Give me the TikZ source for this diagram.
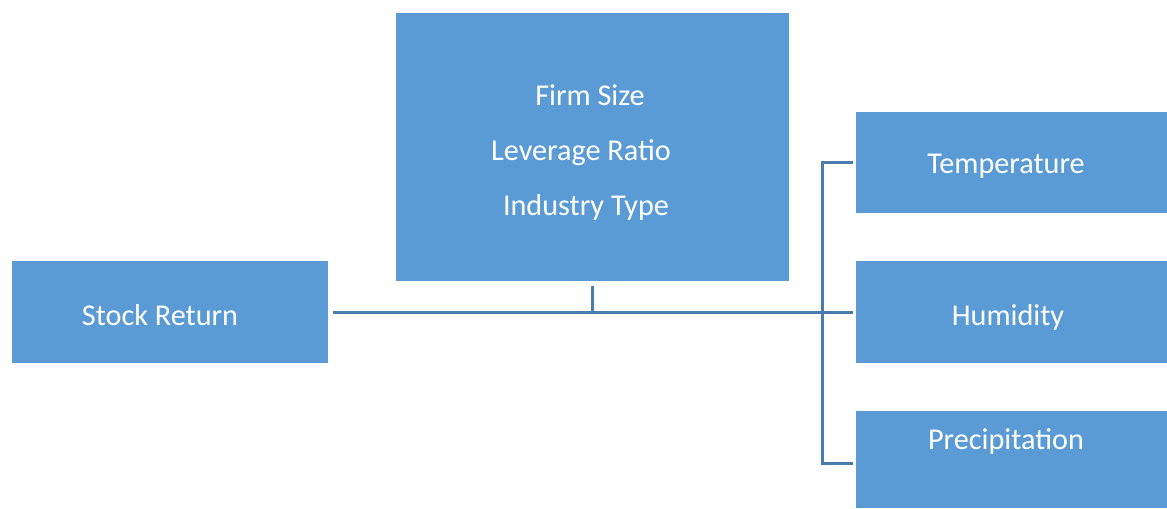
\documentclass[tikz,border=0pt]{standalone}
\usepackage{fontspec}
\setmainfont{Carlito}
\usepackage{tikz}
\usetikzlibrary{positioning}
\definecolor{boxblue}{HTML}{5B9BD5}
\definecolor{lineblue}{HTML}{4A7DAE}

\begin{document}
\begin{tikzpicture}[x=0.02cm,y=-0.02cm,
    every node/.style={outer sep=0pt},
    box/.style={fill=boxblue, draw=none, inner sep=0pt},
    txt/.style={text=white, font=\fontsize{17.2}{20}\selectfont, inner sep=0pt},
    link/.style={draw=lineblue, line width=1.7pt}]
            \useasboundingbox (0,0) rectangle (1167,508);
            % left and top boxes
            \node[box, minimum width=6.32cm, minimum height=2.04cm] (stock) at (170,312) {};
            \node[box, minimum width=7.86cm, minimum height=5.36cm] (firm) at (592.5,147) {};
            % right column
            \node[box, minimum width=6.22cm, minimum height=2.02cm] (temp) at (1011.5,162.5) {};
            \node[box, minimum width=6.22cm, minimum height=2.04cm] (humid) at (1011.5,312) {};
            \node[box, minimum width=6.22cm, minimum height=1.94cm] (precip) at (1011.5,459.5) {};
            % texts
            \node[txt] (tstock) at (160,315) {Stock Return};
            \node[txt] (tsize) at (590,95) {Firm Size};
            \node[txt] (tlev) at (581,153) {Leverage Ratio};
            \node[txt] (tind) at (586,207) {Industry Type};
            \node[txt] (ttemp) at (1006,166) {Temperature};
            \node[txt] (thumid) at (1008,317) {Humidity};
            \node[txt] (tprecip) at (1006,441) {Precipitation};
            % connectors
            \coordinate (fork) at (822,312);
            \coordinate (mid) at (firm.south |- fork);
            \draw[link] ([xshift=3pt]stock.east) -- ([xshift=-2pt]humid.west);
            \draw[link] ([yshift=-3pt]firm.south) -- (mid);
            \draw[link] ([xshift=-2pt]temp.west) -| (fork) |- ([xshift=-2pt,yshift=-2pt]precip.west);
\end{tikzpicture}
\end{document}
